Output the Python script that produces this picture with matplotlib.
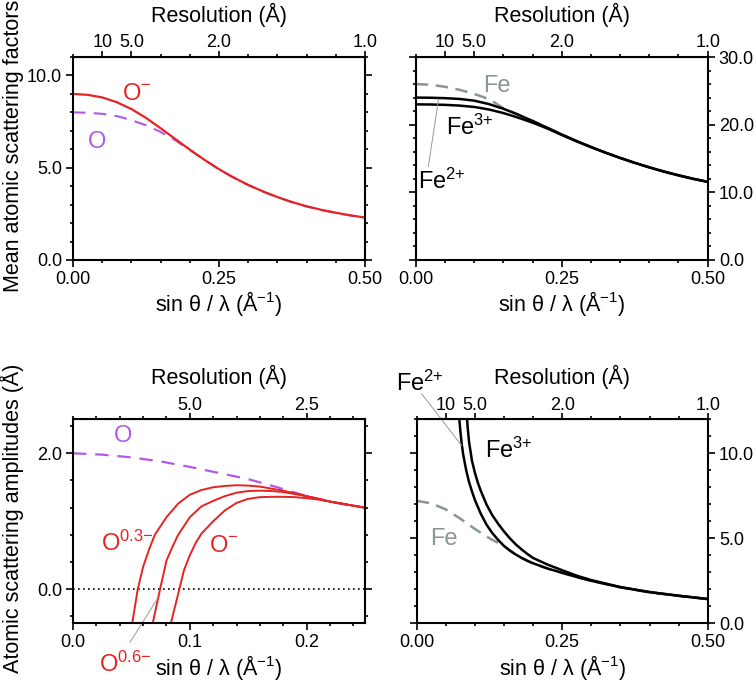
import matplotlib.pyplot as plt
from matplotlib.ticker import MultipleLocator, FormatStrFormatter

plt.rcParams['font.family'] = ['Liberation Sans', 'DejaVu Sans']

RED = '#e62323'
PURPLE = '#b25ae6'
GREY = '#8a9595'

# --- mean atomic scattering factors (top row) ---
s_top = [0, .025, .05, .075, .1, .125, .15, .175, .2, .225, .25, .275, .3, .325, .35,
         .375, .4, .425, .45, .475, .5]
f_o_minus = [9.0, 8.95, 8.81, 8.55, 8.18, 7.70, 7.14, 6.56, 5.98, 5.43, 4.92, 4.47, 4.07,
             3.72, 3.41, 3.14, 2.91, 2.72, 2.56, 2.42, 2.30]
f_o = [8.0, 7.98, 7.92, 7.80, 7.58, 7.30, 6.94, 6.49, 5.96, 5.42, 4.91, 4.46, 4.06,
       3.71, 3.40, 3.13, 2.90, 2.71, 2.55, 2.41, 2.29]
f_fe = [26.0, 25.9, 25.6, 25.15, 24.55, 23.8, 22.45, 21.5, 20.55, 19.56, 18.55, 17.6,
        16.71, 15.87, 15.09, 14.36, 13.69, 13.07, 12.51, 12.0, 11.55]
f_fe2 = [24.0, 23.98, 23.92, 23.80, 23.55, 23.05, 22.35, 21.5, 20.55, 19.56, 18.55, 17.6,
         16.71, 15.87, 15.09, 14.36, 13.69, 13.07, 12.51, 12.0, 11.55]
f_fe3 = [23.0, 22.98, 22.93, 22.82, 22.62, 22.25, 21.72, 21.05, 20.3, 19.45, 18.48, 17.55,
         16.68, 15.85, 15.08, 14.36, 13.69, 13.07, 12.51, 12.0, 11.55]

# --- electron scattering amplitudes, oxygen (bottom left) ---
s_o = [0, .025, .05, .075, .1, .125, .15, .175, .2, .225, .25]
a_o = [2.0, 1.98, 1.94, 1.88, 1.80, 1.71, 1.62, 1.50, 1.37, 1.27, 1.20]
s_o03 = [0.0505, 0.0554, 0.060, 0.065, 0.070, 0.080, 0.090, 0.100, 0.110, 0.120, 0.130, 0.140,
         0.150, 0.160, 0.170, 0.180, 0.190, 0.200, 0.210, 0.220, 0.230, 0.240, 0.250]
a_o03 = [-0.52, 0.0, 0.33, 0.58, 0.80, 1.06, 1.26, 1.39, 1.46, 1.50, 1.52, 1.53,
         1.525, 1.51, 1.48, 1.45, 1.41, 1.37, 1.33, 1.29, 1.26, 1.23, 1.20]
s_o06 = [0.068, 0.0745, 0.080, 0.085, 0.090, 0.100, 0.110, 0.120, 0.130, 0.140, 0.150,
         0.160, 0.170, 0.180, 0.190, 0.200, 0.210, 0.220, 0.230, 0.240, 0.250]
a_o06 = [-0.52, 0.0, 0.42, 0.62, 0.80, 1.06, 1.22, 1.30, 1.37, 1.42, 1.445,
         1.45, 1.445, 1.43, 1.40, 1.37, 1.33, 1.29, 1.26, 1.23, 1.20]
s_o1 = [0.0835, 0.091, 0.095, 0.100, 0.105, 0.110, 0.120, 0.130, 0.140, 0.150,
        0.160, 0.170, 0.180, 0.190, 0.200, 0.210, 0.220, 0.230, 0.240, 0.250]
a_o1 = [-0.52, 0.0, 0.28, 0.50, 0.68, 0.82, 1.00, 1.16, 1.27, 1.33,
        1.355, 1.36, 1.36, 1.355, 1.34, 1.32, 1.29, 1.26, 1.23, 1.20]

# --- electron scattering amplitudes, iron (bottom right) ---
s_fe = [0, .025, .05, .075, .1, .125, .15, .16, .17, .18, .19, .2, .225, .25, .275, .3,
        .35, .4, .45, .5]
a_fe = [7.2, 7.06, 6.70, 6.15, 5.55, 5.0, 4.55, 4.28, 4.04, 3.84, 3.67, 3.52, 3.21, 2.96,
        2.71, 2.49, 2.11, 1.82, 1.61, 1.42]
s_fe2 = [0.0725, 0.075, 0.0775, 0.080, 0.085, 0.090, 0.095, 0.100, 0.110, 0.120, 0.130,
         0.140, 0.150, 0.160, 0.170, 0.180, 0.190, 0.200, 0.225, 0.250, 0.275, 0.300,
         0.350, 0.400, 0.450, 0.500]
a_fe2 = [12.3, 11.3, 10.5, 9.9, 9.0, 8.3, 7.75, 7.25, 6.45, 5.8, 5.3,
         4.9, 4.55, 4.28, 4.05, 3.85, 3.68, 3.53, 3.22, 2.97, 2.72, 2.50,
         2.12, 1.83, 1.62, 1.43]
s_fe3 = [0.086, 0.088, 0.090, 0.095, 0.100, 0.105, 0.110, 0.120, 0.130, 0.140, 0.150,
         0.160, 0.170, 0.180, 0.190, 0.200, 0.225, 0.250, 0.275, 0.300, 0.350, 0.400,
         0.450, 0.500]
a_fe3 = [12.2, 11.35, 10.65, 9.55, 8.85, 8.27, 7.8, 6.98, 6.35, 5.85, 5.4,
         5.0, 4.65, 4.35, 4.08, 3.84, 3.45, 3.12, 2.80, 2.54, 2.13, 1.84,
         1.62, 1.43]

res_top = [10, 5.0, 2.0, 1.0]
res_top_labels = ['10', '5.0', '2.0', '1.0']
res_bl = [5.0, 2.5]
res_bl_labels = ['5.0', '2.5']

xlab = r'sin θ / λ (Å$\mathregular{^{-1}}$)'
LAB = 15.5
TICK = 13
ANN = 17


def style(ax, xlim, ylim, xmaj, xmin, ymaj, ymin, xfmt, res, res_labels, right=False):
    ax.set_xlim(*xlim)
    ax.set_ylim(*ylim)
    ax.xaxis.set_major_locator(MultipleLocator(xmaj))
    ax.xaxis.set_minor_locator(MultipleLocator(xmin))
    ax.yaxis.set_major_locator(MultipleLocator(ymaj))
    ax.yaxis.set_minor_locator(MultipleLocator(ymin))
    ax.xaxis.set_major_formatter(FormatStrFormatter(xfmt))
    ax.yaxis.set_major_formatter(FormatStrFormatter('%.1f'))
    for sp in ax.spines.values():
        sp.set_linewidth(1.5)
    ax.tick_params(which='both', direction='out', width=1.2, labelsize=TICK,
                   left=True, right=True, top=False, pad=3,
                   labelleft=not right, labelright=right)
    ax.tick_params(which='major', length=5)
    ax.tick_params(which='minor', length=2.5)
    ax.set_xlabel(xlab, fontsize=LAB, labelpad=1)
    sec = ax.secondary_xaxis('top', functions=(lambda v: v, lambda v: v))
    sec.set_xticks([1 / (2 * d) for d in res], res_labels)
    sec.xaxis.set_minor_locator(MultipleLocator(xmin))
    sec.tick_params(which='both', direction='out', width=1.2, labelsize=TICK, pad=0)
    sec.tick_params(which='major', length=4)
    sec.tick_params(which='minor', length=2.5)
    sec.set_xlabel('Resolution (Å)', fontsize=LAB, labelpad=9)
    return sec


fig = plt.figure(figsize=(7.56, 6.86), dpi=100)
ax1 = fig.add_axes([0.0966, 0.621, 0.3862, 0.2959])
ax2 = fig.add_axes([0.5499, 0.621, 0.3862, 0.2959])
ax3 = fig.add_axes([0.0966, 0.0914, 0.3862, 0.2974])
ax4 = fig.add_axes([0.5512, 0.0914, 0.385, 0.2974])

# top left
ax1.plot(s_top, f_o, color=PURPLE, lw=1.5, ls=(0, (6, 4)))
ax1.plot(s_top, f_o_minus, color=RED, lw=1.6)
style(ax1, (0, 0.5), (0, 11), 0.25, 0.05, 5, 1, '%.2f', res_top, res_top_labels)
ax1.set_ylabel('Mean atomic scattering factors', fontsize=LAB)
ax1.yaxis.set_label_coords(-0.168, 0.56)
ax1.text(0.109, 9.0, r'$\mathregular{O^{-}}$', color=RED, fontsize=ANN, ha='center', va='center')
ax1.text(0.042, 6.4, 'O', color=PURPLE, fontsize=ANN, ha='center', va='center')

# top right
ax2.plot(s_top, f_fe, color=GREY, lw=1.8, ls=(0, (5, 3)))
ax2.plot(s_top, f_fe2, color='black', lw=1.8)
ax2.plot(s_top, f_fe3, color='black', lw=1.8)
style(ax2, (0, 0.5), (0, 30), 0.25, 0.05, 10, 2, '%.2f', res_top, res_top_labels, right=True)
ax2.text(0.139, 25.7, 'Fe', color=GREY, fontsize=ANN, ha='center', va='center')
ax2.text(0.093, 19.6, r'$\mathregular{Fe^{3{+}}}$', color='black', fontsize=ANN,
         ha='center', va='center')
ax2.text(0.045, 11.7, r'$\mathregular{Fe^{2{+}}}$', color='black', fontsize=ANN,
         ha='center', va='center')
ax2.plot([0.0216, 0.039], [13.8, 23.75], color='#999999', lw=0.7)

# bottom left
ax3.axhline(0, color='black', lw=1.2, ls=(0, (1, 2)))
ax3.plot(s_o, a_o, color=PURPLE, lw=1.6, ls=(0, (6, 4)))
ax3.plot(s_o03, a_o03, color=RED, lw=1.4)
ax3.plot(s_o06, a_o06, color=RED, lw=1.4)
ax3.plot(s_o1, a_o1, color=RED, lw=1.4)
style(ax3, (0, 0.25), (-0.5, 2.5), 0.1, 0.02, 2, 0.4, '%.1f', res_bl, res_bl_labels)
ax3.set_ylabel('Atomic scattering amplitudes (Å)', fontsize=LAB)
ax3.yaxis.set_label_coords(-0.168, 0.515)
ax3.text(0.043, 2.25, 'O', color=PURPLE, fontsize=ANN, ha='center', va='center')
ax3.text(0.046, 0.68, r'$\mathregular{O^{0.3{-}}}$', color=RED, fontsize=ANN,
         ha='center', va='center')
ax3.text(0.129, 0.64, r'$\mathregular{O^{-}}$', color=RED, fontsize=ANN, ha='center', va='center')
ax3.text(0.045, -1.1, r'$\mathregular{O^{0.6{-}}}$', color=RED, fontsize=ANN, ha='center',
         va='center', clip_on=False)
ax3.plot([0.0488, 0.0722], [-0.78, -0.14], color='#999999', lw=0.7, clip_on=False)

# bottom right
ax4.plot(s_fe, a_fe, color=GREY, lw=1.8, ls=(0, (5, 3)))
ax4.plot(s_fe2, a_fe2, color='black', lw=1.8)
ax4.plot(s_fe3, a_fe3, color='black', lw=1.8)
style(ax4, (0, 0.5), (0, 12), 0.25, 0.05, 5, 1, '%.2f', res_top, res_top_labels, right=True)
ax4.text(0.046, 4.98, 'Fe', color=GREY, fontsize=ANN, ha='center', va='center')
ax4.text(0.158, 10.2, r'$\mathregular{Fe^{3{+}}}$', color='black', fontsize=ANN,
         ha='center', va='center')
ax4.text(0.005, 14.1, r'$\mathregular{Fe^{2{+}}}$', color='black', fontsize=ANN,
         ha='center', va='center', clip_on=False)
ax4.plot([0.0086, 0.0773], [13.5, 10.45], color='#999999', lw=0.7, clip_on=False)

fig.savefig('out.png', dpi=100)
